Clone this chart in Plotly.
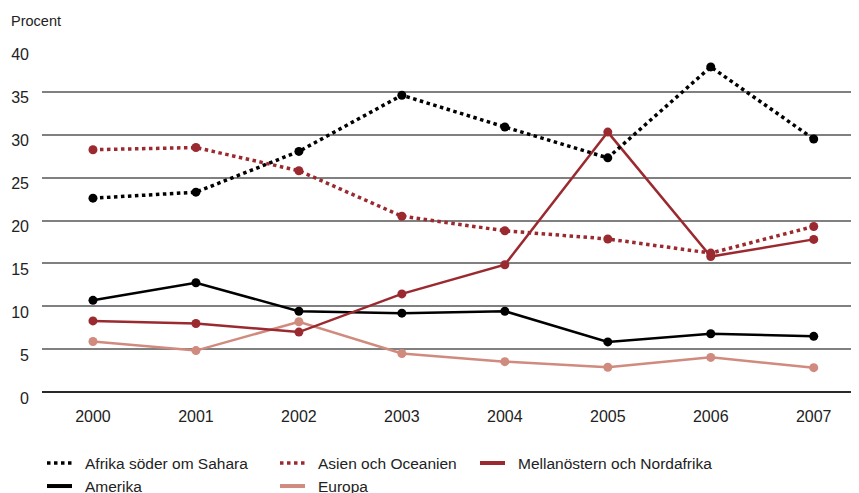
import plotly.graph_objects as go

years = [2000, 2001, 2002, 2003, 2004, 2005, 2006, 2007]
afrika = [22.6, 23.3, 28.05, 34.6, 30.9, 27.3, 37.9, 29.5]
asien = [28.25, 28.5, 25.8, 20.5, 18.8, 17.85, 16.2, 19.3]
mellanostern = [8.3, 8.0, 7.0, 11.45, 14.85, 30.3, 15.8, 17.8]
amerika = [10.7, 12.75, 9.43, 9.2, 9.43, 5.85, 6.8, 6.5]
europa = [5.9, 4.84, 8.2, 4.5, 3.55, 2.9, 4.05, 2.85]

y_ticks = [0, 5, 10, 15, 20, 25, 30, 35, 40]

BLACK = "#000000"
RED = "#9b2a30"
SALMON = "#d08a7e"
FONT = "Liberation Sans"
TXT = "#222222"

series = [
    ("Afrika söder om Sahara", afrika, BLACK, "dot", 3.5),
    ("Asien och Oceanien", asien, RED, "dot", 3.5),
    ("Mellanöstern och Nordafrika", mellanostern, RED, "solid", 2.5),
    ("Amerika", amerika, BLACK, "solid", 2.5),
    ("Europa", europa, SALMON, "solid", 2.5),
]

fig = go.Figure()
order = [4, 3, 2, 1, 0]
for i in order:
    name, vals, col, dash, w = series[i]
    fig.add_trace(go.Scatter(
        x=years, y=vals, name=name, mode="lines+markers",
        line=dict(color=col, dash=dash, width=w),
        marker=dict(color=col, size=9),
        showlegend=False, hoverinfo="skip", cliponaxis=False,
    ))

# page places the figure at an 8px offset; work in page pixels and convert
OFF = 8
W, H = 859 - OFF, 493 - OFF
PX_L, PX_R = 42, 858          # plot area left/right in page px
PX_T, PX_B = 48.1, 392.6      # plot area top/bottom in page px (range -0.1..40.1)
ml = PX_L - OFF
mr = W - (PX_R - OFF)
mt = PX_T - OFF
mb = H - (PX_B - OFF)
pw = PX_R - PX_L
ph = PX_B - PX_T


def px_x(px):
    return (px - PX_L) / pw


def px_y(py):
    return (PX_B - py) / ph


shapes = []
annotations = []

legend_pos = [
    (0, 47, 462.5),
    (1, 280, 462.5),
    (2, 480, 462.5),
    (3, 47, 485.5),
    (4, 280, 485.5),
]
for idx, lx, ly in legend_pos:
    name, vals, col, dash, w = series[idx]
    shapes.append(dict(
        type="line", xref="paper", yref="paper",
        x0=px_x(lx), x1=px_x(lx + 25), y0=px_y(ly), y1=px_y(ly),
        line=dict(color=col, dash=dash, width=3.5 if dash == "dot" else 4),
        layer="above",
    ))
    annotations.append(dict(
        xref="paper", yref="paper", x=px_x(lx + 36), y=px_y(ly),
        text=name, showarrow=False, xanchor="left", yanchor="middle",
        font=dict(family=FONT, size=15.5, color=TXT),
    ))

annotations.append(dict(
    xref="paper", yref="paper", x=px_x(9), y=px_y(21),
    text="Procent", showarrow=False, xanchor="left", yanchor="middle",
    font=dict(family=FONT, size=14.5, color=TXT),
))

fig.update_layout(
    width=W, height=H,
    margin=dict(l=ml, r=mr, t=mt, b=mb, pad=0),
    paper_bgcolor="white", plot_bgcolor="white",
    showlegend=False,
    shapes=shapes, annotations=annotations,
    xaxis=dict(
        range=[1999.505, 2007.43], tickvals=years, ticktext=[str(y) for y in years],
        showgrid=False, zeroline=False, showline=False, ticks="",
        tickfont=dict(family=FONT, size=16, color=TXT),
        ticklabelstandoff=12,
    ),
    yaxis=dict(
        range=[-0.1, 40.1], tickvals=y_ticks, ticktext=[str(v) for v in y_ticks],
        showgrid=True, gridcolor="#808080", gridwidth=2,
        zeroline=True, zerolinecolor="#2a2a2a", zerolinewidth=2,
        showline=False, ticks="",
        tickfont=dict(family=FONT, size=16, color=TXT),
        ticklabelstandoff=12, ticklabelshift=6,
    ),
)

fig.write_html("out.html")
